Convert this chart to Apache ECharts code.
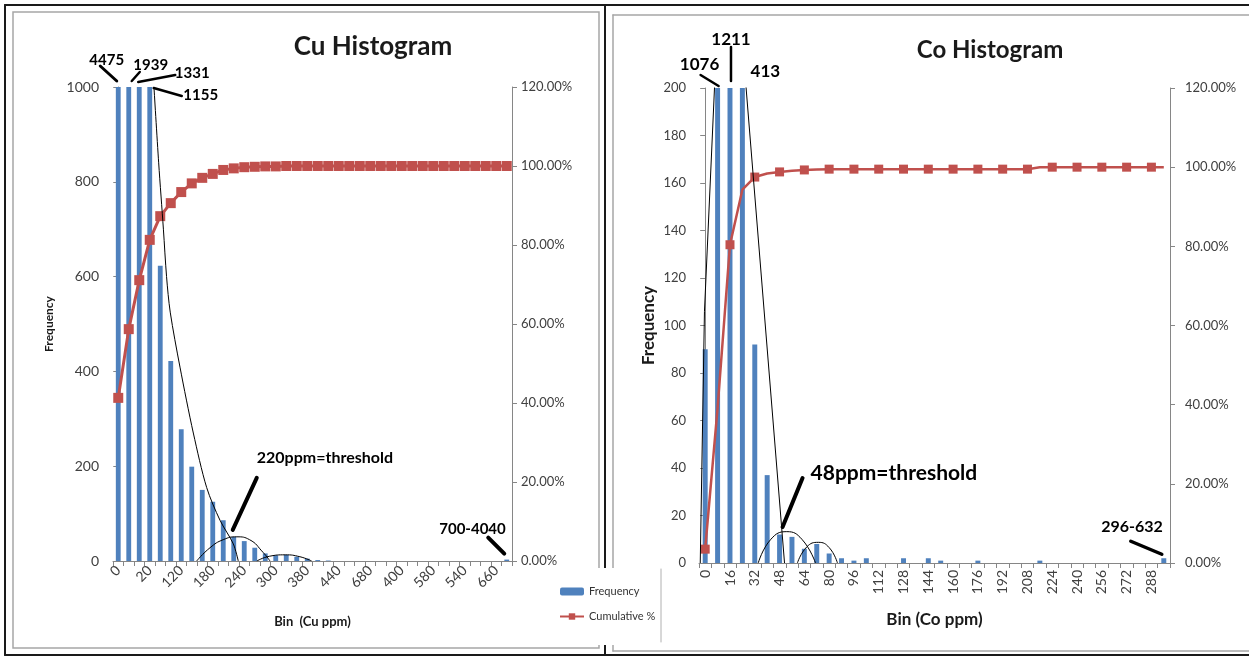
<!DOCTYPE html>
<html><head><meta charset="utf-8">
<script src="https://cdn.jsdelivr.net/npm/echarts@6/dist/echarts.min.js"></script>
<style>html,body{margin:0;padding:0;background:#fff}#c{width:1249px;height:658px}</style>
</head><body><div id="c"></div>
<script>
// ---------- DATA ----------
// Cu histogram: 38 bins, every third bin labelled (labels as printed on the original)
const cuBins = ['0','','','20','','','120','','','180','','','240','','','300','','','380','','','440','','','680','','','400','','','580','','','540','','','660',''];
const cuFreq = [4475,1939,1331,1155,623,422,278,199,150,125,86,51,42,28,16,12,13,9,5,2,1,0,0,0,0,0,0,0,0,0,0,0,0,0,0,0,0,3];
const cuCum  = [41.3,58.7,71.1,81.3,87.3,90.6,93.4,95.6,97.0,98.0,99.0,99.4,99.7,99.8,99.9,99.9,100,100,100,100,100,100,100,100,100,100,100,100,100,100,100,100,100,100,100,100,100,100];
// hand-drawn fitted curves on the Cu chart, [bin index, frequency]
const cuMainCurve = [[3.40,1000],[3.85,840],[4.3,700],[4.6,600],[4.95,525],[5.88,409],[7.15,270],[8.42,155],[9.69,86],[10.96,36],[11.43,0]];
const cuBellA = [[7.47,0],[8.74,28],[10.0,45],[11.3,51],[12.5,45],[13.8,18],[14.45,0]];
const cuBellB = [[13.2,0],[14.4,10],[15.9,13],[17.3,9],[18.42,0]];
const cuThresholdText = '220ppm=threshold';
const cuOutlierText = '700-4040';

// Co histogram: 38 bins of 8 ppm, every second bin labelled
const coBins = ['0','8','16','24','32','40','48','56','64','72','80','88','96','104','112','120','128','136','144','152','160','168','176','184','192','200','208','216','224','232','240','248','256','264','272','280','288','296'];
const coFreq = [90,1076,1211,413,92,37,12,11,6,8,4,2,1,2,0,0,2,0,2,1,0,0,1,0,0,0,0,1,0,0,0,0,0,0,0,0,0,2];
const coCum  = [3.5,39.2,80.4,94.3,97.5,98.4,98.8,99.1,99.3,99.4,99.5,99.5,99.5,99.5,99.5,99.5,99.5,99.5,99.5,99.5,99.5,99.5,99.5,99.5,99.5,99.5,99.5,100,100,100,100,100,100,100,100,100,100,100];
const coMainCurve = [[-0.4,0],[-0.06,106],[0.75,200],[1.6,265],[2.5,265],[3.3,200],[6.4,0]];
const coBellA = [[4.28,0],[5.3,10],[6.58,13.2],[7.8,10],[8.9,0]];
const coBellB = [[7.44,0],[8.2,6.8],[9.13,8.7],[10.0,6.5],[10.67,0]];
const coThresholdText = '48ppm=threshold';
const coOutlierText = '296-632';

const cuYMax = 1000, cuYStep = 200;
const coYMax = 200, coYStep = 20;
const pctMax = 120, pctStep = 20;

// ---------- CHART ----------
const FONT = 'Lato, "Open Sans", "DejaVu Sans", sans-serif';
const AX = '#868686', LAB = '#404040', BLUE = '#4F81BD', RED = '#C0504D';
const chart = echarts.init(document.getElementById('c'), null, {renderer: 'canvas'});

function catAxis(gi, data, lblInterval, rotate, fs, name, nameFs, nameGap) {
  return {type: 'category', gridIndex: gi, data: data,
    axisLine: {show: true, lineStyle: {color: AX, width: 1}},
    axisTick: {show: true, interval: 0, length: 5, inside: false, lineStyle: {color: AX}},
    axisLabel: {interval: lblInterval, rotate: rotate, fontSize: fs, color: LAB, margin: 7, fontFamily: FONT},
    splitLine: {show: false},
    name: name, nameLocation: 'middle', nameGap: nameGap,
    nameTextStyle: {fontWeight: 'bold', fontSize: nameFs, color: '#1a1a1a', fontFamily: FONT}};
}
function hiddenX(gi, n) { return {type: 'value', gridIndex: gi, min: -0.5, max: n - 0.5, show: false}; }
function valAxis(gi, pos, max, step, fs, margin, fmt, name, nameFs, nameGap) {
  const a = {type: 'value', gridIndex: gi, position: pos, min: 0, max: max, interval: step,
    axisLine: {show: true, lineStyle: {color: AX, width: 1}},
    axisTick: {show: true, length: 5, inside: false, lineStyle: {color: AX}},
    axisLabel: {fontSize: fs, color: LAB, margin: margin, fontFamily: FONT, formatter: fmt},
    splitLine: {show: false}};
  if (name) {
    a.name = name; a.nameLocation = 'middle'; a.nameGap = nameGap;
    a.nameTextStyle = {fontWeight: 'bold', fontSize: nameFs, color: '#1a1a1a', fontFamily: FONT};
  }
  return a;
}
const pctFmt = v => v.toFixed(2) + '%';
const plainFmt = v => String(v);
function curve(xi, yi, data, smooth) {
  return {type: 'line', name: 'fit', xAxisIndex: xi, yAxisIndex: yi, data: data, smooth: smooth,
    symbol: 'none', lineStyle: {color: '#000', width: 1}, z: 6, silent: true, clip: true};
}

const option = {
  animation: false,
  backgroundColor: '#fff',
  title: [
    {text: 'Cu Histogram', left: 368, top: 29, textAlign: 'center',
     textStyle: {fontFamily: FONT, fontWeight: 'bold', fontSize: 26, color: '#1a1a1a'}},
    {text: 'Co Histogram', left: 985, top: 33, textAlign: 'center',
     textStyle: {fontFamily: FONT, fontWeight: 'bold', fontSize: 24, color: '#1a1a1a'}}
  ],
  legend: {data: ['Frequency', 'Cumulative %'], orient: 'vertical', left: 554, top: 581,
    itemWidth: 24, itemHeight: 8, itemGap: 14, z: 10,
    textStyle: {fontSize: 11, color: '#333', fontFamily: FONT}},
  grid: [
    {left: 113, top: 87, width: 399, height: 474, containLabel: false, outerBoundsMode: 'none'},
    {left: 699, top: 88, width: 471, height: 475, containLabel: false, outerBoundsMode: 'none'}
  ],
  xAxis: [
    catAxis(0, cuBins, 0, 45, 14, 'Bin  (Cu ppm)', 13, 54),
    hiddenX(0, cuBins.length),
    catAxis(1, coBins, 1, 90, 14, 'Bin (Co ppm)', 17, 48),
    hiddenX(1, coBins.length)
  ],
  yAxis: [
    valAxis(0, 'left', cuYMax, cuYStep, 14, 14, plainFmt, 'Frequency', 12, 58),
    valAxis(0, 'right', pctMax, pctStep, 13, 9, pctFmt),
    valAxis(1, 'left', coYMax, coYStep, 13, 13, plainFmt, 'Frequency', 17, 42),
    valAxis(1, 'right', pctMax, pctStep, 13, 15, pctFmt)
  ],
  series: [
    {name: 'Frequency', type: 'bar', xAxisIndex: 0, yAxisIndex: 0, data: cuFreq, barWidth: '46%',
     itemStyle: {color: BLUE}, z: 2, clip: true},
    {name: 'Cumulative %', type: 'line', xAxisIndex: 0, yAxisIndex: 1, data: cuCum,
     symbol: 'rect', symbolSize: 10, lineStyle: {color: RED, width: 3}, itemStyle: {color: RED}, z: 3},
    curve(1, 0, cuMainCurve, 0.3),
    curve(1, 0, cuBellA, 0.5),
    curve(1, 0, cuBellB, 0.5),
    {name: 'Frequency', type: 'bar', xAxisIndex: 2, yAxisIndex: 2, data: coFreq, barWidth: '40%',
     itemStyle: {color: BLUE}, z: 2, clip: true},
    {name: 'Cumulative %', type: 'line', xAxisIndex: 2, yAxisIndex: 3, data: coCum,
     symbol: 'rect', symbolSize: 9, lineStyle: {color: RED, width: 2.5}, itemStyle: {color: RED}, z: 3},
    curve(3, 2, coMainCurve, false),
    curve(3, 2, coBellA, 0.5),
    curve(3, 2, coBellB, 0.5)
  ]
};
chart.setOption(option);

// ---------- FRAMES & ANNOTATIONS ----------
function px(gi, idx, val) {
  const a = gi === 0 ? 0 : 2;
  return chart.convertToPixel({xAxisIndex: a, yAxisIndex: a}, [idx, val]);
}
const g = [];
function ln(x1, y1, x2, y2, color, w, z) {
  g.push({type: 'line', z: z, silent: true, shape: {x1: x1, y1: y1, x2: x2, y2: y2},
    style: {stroke: color, lineWidth: w, lineCap: 'round'}});
}
function tx(x, y, text, size, align) {
  g.push({type: 'text', z: 100, silent: true,
    style: {text: text, x: x, y: y, fill: '#000', font: 'bold ' + size + 'px ' + FONT,
      align: align, verticalAlign: 'middle', textAlign: align, textVerticalAlign: 'middle'}});
}
// frames
ln(5, 5, 1249, 5, '#1a1a1a', 2, 1);
ln(5, 5, 5, 655, '#1a1a1a', 2, 1);
ln(5, 655, 1249, 655, '#1a1a1a', 2, 1);
ln(605, 5, 605, 655, '#1a1a1a', 2, 1);
g.push({type: 'rect', z: 1, silent: true, shape: {x: 13, y: 12, width: 586, height: 636},
  style: {fill: 'none', stroke: '#a6a6a6', lineWidth: 1.5}});
ln(613, 15, 1249, 15, '#a6a6a6', 1.5, 1);
ln(613, 15, 613, 651, '#a6a6a6', 1.5, 1);
ln(613, 651, 1249, 651, '#a6a6a6', 1.5, 1);
// legend box (covers the divider)
g.push({type: 'rect', z: 2, silent: true, shape: {x: 548, y: 568, width: 113, height: 77},
  style: {fill: '#fff', stroke: 'none'}});
ln(661, 569, 661, 642, '#b0b0b0', 1, 3);

// callouts for clipped bars (text is the bar's own value)
function callout(gi, idx, ymax, l, t, w, size) {
  const p = px(gi, idx, ymax);
  if (l) ln(p[0] + l[0], p[1] + l[1], p[0] + l[2], p[1] + l[3], '#000', w, 100);
  tx(p[0] + t[0], p[1] + t[1], String(gi === 0 ? cuFreq[idx] : coFreq[idx]), size, 'center');
}
callout(0, 0, cuYMax, [-1.5, -6, -18, -21], [-11.5, -27], 3, 15);
callout(0, 1, cuYMax, [3, -6, 11, -15], [22, -22], 2.5, 15);
callout(0, 2, cuYMax, [-1, -5, 36, -12], [53, -14], 2.5, 15);
callout(0, 3, cuYMax, [4, 1, 32, 9], [51, 8], 2.5, 15);
// Cu threshold + outlier
(function () {
  const p = px(0, 11, cuFreq[11]);
  ln(p[0] - 1, p[1] - 7, p[0] + 23, p[1] - 59, '#000', 4, 100);
  tx(p[0] + 23, p[1] - 79, cuThresholdText, 16, 'left');
  const q = px(0, 37, cuFreq[37]);
  ln(q[0] - 18.5, q[1] - 22, q[0] - 2.5, q[1] - 6, '#000', 4, 100);
  tx(q[0] - 1, q[1] - 30, cuOutlierText, 15, 'right');
})();
// Co callouts
callout(1, 1, coYMax, [1, -2, -17, -13], [-18, -23], 2.5, 17);
callout(1, 2, coYMax, [1, -7, 1, -41], [1, -48], 2.5, 17);
callout(1, 3, coYMax, null, [23, -16], 0, 17);
(function () {
  const p = px(1, 6, coFreq[6]);
  ln(p[0] + 3, p[1] - 7.5, p[0] + 23, p[1] - 56.5, '#000', 4, 100);
  tx(p[0] + 31, p[1] - 61.5, coThresholdText, 21, 'left');
  const q = px(1, 37, coFreq[37]);
  ln(q[0] - 33, q[1] - 17, q[0] - 2, q[1] - 4, '#000', 3.5, 100);
  tx(q[0] - 1, q[1] - 31, coOutlierText, 16, 'right');
})();
chart.setOption({graphic: {elements: g}});
</script>
</body></html>
